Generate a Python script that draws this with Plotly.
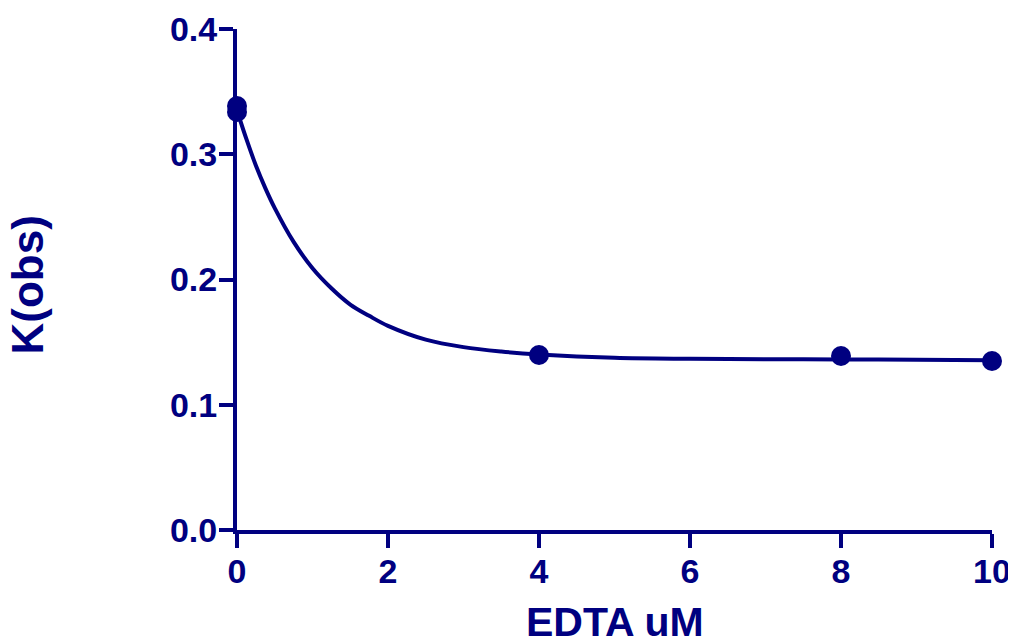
import plotly.graph_objects as go

# Measured data points
edta = [0, 0, 4, 8, 10]
kobs = [0.3385, 0.3337, 0.1397, 0.1389, 0.1349]

# Fitted curve
curve_x = [0, 0.125, 0.25, 0.375, 0.5, 0.75, 1.0, 1.25, 1.5, 1.75, 2.0, 2.5, 3.0, 3.5, 4.0, 5, 6, 7, 8, 9, 10]
curve_y = [0.335, 0.312, 0.291, 0.273, 0.257, 0.230, 0.209, 0.193, 0.180, 0.171, 0.163, 0.152, 0.146, 0.1425, 0.1402, 0.1375, 0.1367, 0.1364, 0.1362, 0.1359, 0.1355]

x_ticks = [0, 2, 4, 6, 8, 10]
y_ticks = [0.0, 0.1, 0.2, 0.3, 0.4]
y_tick_labels = ["0.0", "0.1", "0.2", "0.3", "0.4"]
x_title = "EDTA uM"
y_title = "K(obs)"

navy = "#000080"
font_family = "Liberation Sans, Arial, sans-serif"

fig = go.Figure()
fig.add_trace(go.Scatter(x=curve_x, y=curve_y, mode="lines",
                         line=dict(color=navy, width=4, shape="spline", smoothing=1.0),
                         hoverinfo="skip", cliponaxis=False))
fig.add_trace(go.Scatter(x=edta, y=kobs, mode="markers", marker=dict(color=navy, size=20),
                         cliponaxis=False))

fig.update_layout(
    width=1008, height=634,
    margin=dict(l=229, r=24, t=21, b=112, autoexpand=False),
    paper_bgcolor="white", plot_bgcolor="white",
    showlegend=False,
    font=dict(family=font_family, color=navy),
    xaxis=dict(range=[0, 10], tickvals=x_ticks, showgrid=False, zeroline=False,
               showline=True, linecolor=navy, linewidth=4, automargin=False,
               ticks="outside", ticklen=14, tickwidth=4, tickcolor=navy,
               ticklabelstandoff=-6,
               tickfont=dict(size=34, family=font_family, color=navy, weight="bold")),
    yaxis=dict(range=[0, 0.4], tickvals=y_ticks, ticktext=y_tick_labels, showgrid=False, zeroline=False,
               showline=True, linecolor=navy, linewidth=4, automargin=False,
               ticks="outside", ticklen=14, tickwidth=4, tickcolor=navy,
               ticklabelstandoff=-5,
               tickfont=dict(size=34, family=font_family, color=navy, weight="bold")),
    annotations=[
        dict(text="<b>%s</b>" % x_title, xref="paper", yref="paper", x=0.5, y=0,
             xanchor="center", yanchor="middle", yshift=-92, showarrow=False,
             font=dict(size=41, color=navy, family=font_family)),
        dict(text="<b>%s</b>" % y_title, xref="paper", yref="paper", x=0, y=0.5,
             xanchor="center", yanchor="middle", xshift=-210, yshift=-6, textangle=-90,
             showarrow=False, font=dict(size=44, color=navy, family=font_family)),
    ],
)

fig.write_html("out.html")
